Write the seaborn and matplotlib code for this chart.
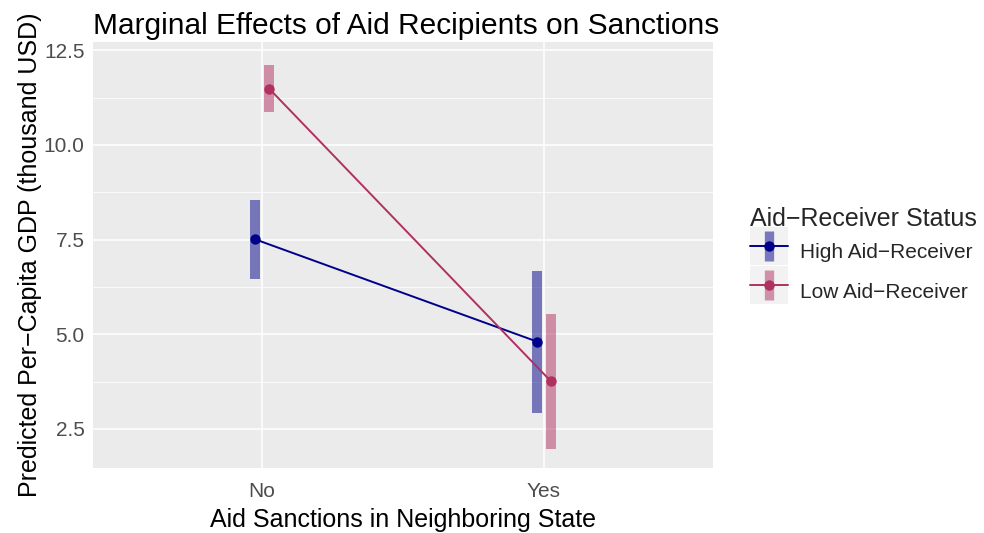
import numpy as np
import matplotlib
matplotlib.use("Agg")
import matplotlib.pyplot as plt
import seaborn as sns
from matplotlib.lines import Line2D
from matplotlib.legend_handler import HandlerTuple
from matplotlib.ticker import MultipleLocator, FormatStrFormatter

categories = ["No", "Yes"]
groups = ["High Aid\u2212Receiver", "Low Aid\u2212Receiver"]
estimate = {"High Aid\u2212Receiver": [7.51, 4.81], "Low Aid\u2212Receiver": [11.49, 3.76]}
ci_low = {"High Aid\u2212Receiver": [6.46, 2.93], "Low Aid\u2212Receiver": [10.88, 1.98]}
ci_high = {"High Aid\u2212Receiver": [8.56, 6.68], "Low Aid\u2212Receiver": [12.11, 5.53]}
colors = {"High Aid\u2212Receiver": "#00008B", "Low Aid\u2212Receiver": "#B03060"}
offsets = {"High Aid\u2212Receiver": -0.025, "Low Aid\u2212Receiver": 0.025}

sns.set_theme(style="darkgrid")
plt.rcParams["font.family"] = ["Liberation Sans", "DejaVu Sans"]

fig = plt.figure(figsize=(9.84, 5.33), dpi=100)
ax = fig.add_axes([0.0945, 0.122, 0.63, 0.7992])
ax.set_facecolor("#EBEBEB")

base = np.arange(len(categories))
for g in groups:
    xs = base + offsets[g]
    lo = np.array(ci_low[g])
    hi = np.array(ci_high[g])
    ax.bar(xs, hi - lo, bottom=lo, width=0.034, color=colors[g], alpha=0.5,
           linewidth=0, zorder=2)
    sns.lineplot(x=xs, y=estimate[g], ax=ax, color=colors[g], linewidth=1.4,
                 marker="o", markersize=7.5, markeredgewidth=0, zorder=3)

ax.set_xlim(-0.6, 1.6)
ax.set_ylim(1.47, 12.72)
ax.set_xticks(base)
ax.set_xticklabels(categories)
ax.yaxis.set_major_locator(MultipleLocator(2.5))
ax.yaxis.set_minor_locator(MultipleLocator(1.25))
ax.yaxis.set_major_formatter(FormatStrFormatter("%.1f"))
ax.grid(which="major", color="white", linewidth=1.1)
ax.grid(which="minor", axis="y", color="white", linewidth=0.55)
ax.grid(which="minor", axis="x", visible=False)
for s in ax.spines.values():
    s.set_visible(False)
ax.tick_params(axis="both", which="major", length=4, width=1, color="#333333",
               labelsize=15, labelcolor="#4D4D4D")
ax.tick_params(axis="y", which="major", pad=2)
ax.tick_params(axis="x", which="major", pad=6)
ax.tick_params(axis="both", which="minor", length=0)

ax.set_xlabel("Aid Sanctions in Neighboring State", fontsize=18, color="black", labelpad=5)
ax.set_ylabel("Predicted Per\u2212Capita GDP (thousand USD)", fontsize=18, color="black", labelpad=1)
ax.set_title("Marginal Effects of Aid Recipients on Sanctions", fontsize=21.5, loc="left",
             color="black", pad=6)

# legend keys: grey key background, translucent CI bar, line with point
handles = []
for g in groups:
    bg = Line2D([], [], marker="s", markersize=27.4, markeredgewidth=0, color="#F2F2F2",
                linestyle="none")
    bar = Line2D([], [], marker="|", markersize=21.6, markeredgewidth=6.7, color=colors[g],
                 alpha=0.5, linestyle="none")
    ln = Line2D([], [], color=colors[g], linewidth=1.4, marker="o", markersize=7.5,
                markeredgewidth=0)
    handles.append((bg, bar, ln))

leg = fig.legend(handles, groups, title="Aid\u2212Receiver Status",
                 handler_map={tuple: HandlerTuple(ndivide=1, pad=0)},
                 loc="center left", bbox_to_anchor=(0.762, 0.514), frameon=False,
                 fontsize=15, title_fontsize=18, handlelength=1.83, handleheight=2.43,
                 labelspacing=0.08, handletextpad=0.6, borderaxespad=0, borderpad=0)
leg._legend_box.align = "left"

fig.savefig("out.png", dpi=100)
